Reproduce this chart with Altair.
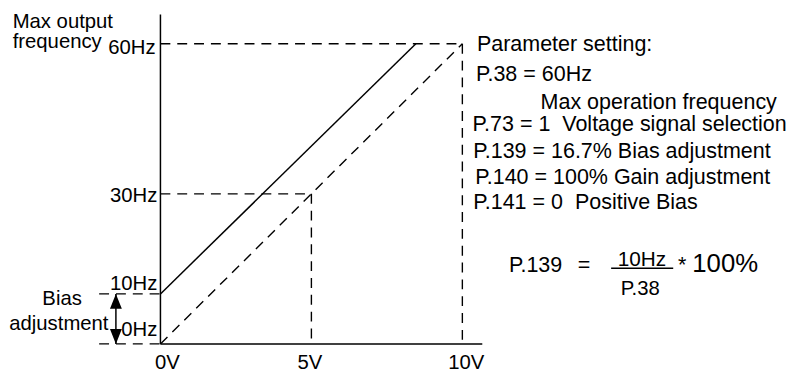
import altair as alt
import pandas as pd

FONT = "Liberation Sans"
NB = "\u00a0"

# ---------------- data (volts on x, hertz on y) ----------------
# horizontal axis ticks
volt_ticks = [0, 5, 10]
volt_labels = ["0V", "5V", "10V"]
volt_label_x = [0.23, 4.95, 10.13]
volt_label_y = [-5.05, -5.05, -5.05]

# vertical axis ticks
freq_ticks = [60, 30, 10, 0]
freq_labels = ["60Hz", "30Hz", "10Hz", "0Hz"]
freq_label_x = [-0.16, -0.10, -0.10, -0.10]
freq_label_y = [57.98, 28.40, 10.84, 1.68]

# characteristic curves
bias_curve_v = [0, 8.46]      # solid: with bias
bias_curve_hz = [10, 60]
base_curve_v = [0, 10]        # dashed: without bias
base_curve_hz = [0, 60]

# axis extents
axis_v_end = 10.66
axis_hz_end = 65.86

# guide (dashed) segments: x, y, x2, y2
guide_x = [0, 10, 0, 5, -2.03, -2.03]
guide_y = [60, 60, 30, 30, 10, 0]
guide_x2 = [10, 10, 5, 5, 0, 0]
guide_y2 = [60, 0, 30, 0, 10, 0]

# bias arrow
arrow_v = -1.475
arrow_hz = [0, 10]

# left-side titles
left_text = ["Max output", "frequency", "Bias", "adjustment"]
left_text_x = [-4.895, -4.895, -3.911, -5.007]
left_text_y = [63.23, 59.07, 7.876, 2.73]

# parameter block
param_text = [
    "Parameter setting:",
    "P.38 = 60Hz",
    "Max operation frequency",
    "P.73 = 1" + NB + NB + "Voltage signal selection",
    "P.139 = 16.7% Bias adjustment",
    "P.140 = 100% Gain adjustment",
    "P.141 = 0" + NB + NB + "Positive Bias",
]
param_x = [10.482, 10.449, 12.59, 10.338, 10.36, 10.426, 10.36]
param_y = [58.48, 52.54, 46.94, 42.51, 37.20, 32.06, 27.01]

FS = 21.7     # parameter block
FS_AX = 20.5  # axis labels and left titles

# formula
formula_left = ["P.139", "100%"]
formula_left_x = [11.541, 17.616]
formula_left_y = [14.29, 14.29]
formula_left_size = [FS, 26]
formula_center = ["=", "10Hz", "P.38", "*"]
formula_center_x = [14.033, 15.946, 15.892, 17.279]
formula_center_y = [14.29, 15.59, 9.855, 14.29]
formula_center_size = [FS, 21, 20.5, FS]
fraction_v = [14.928, 16.984]
fraction_hz = 15.14

# ---------------- scales ----------------
XS = alt.Scale(domain=[-5.049, 20.852], nice=False, zero=False)
YS = alt.Scale(domain=[-5.442, 66.789], nice=False, zero=False)


def X(f="x"):
    return alt.X(f"{f}:Q", scale=XS, axis=None)


def Y(f="y"):
    return alt.Y(f"{f}:Q", scale=YS, axis=None)


# solid segments: axes, bias curve, arrow shaft, fraction bar
solid = pd.DataFrame({
    "x": [0, 0, bias_curve_v[0], arrow_v, fraction_v[0]],
    "y": [0, 0, bias_curve_hz[0], arrow_hz[0], fraction_hz],
    "x2": [0, axis_v_end, bias_curve_v[1], arrow_v, fraction_v[1]],
    "y2": [axis_hz_end, 0, bias_curve_hz[1], arrow_hz[1], fraction_hz],
})
solid_layer = alt.Chart(solid).mark_rule(color="black", strokeWidth=1.5).encode(
    x=X(), y=Y(), x2="x2:Q", y2="y2:Q")

dashed = pd.DataFrame({
    "x": guide_x + [base_curve_v[0]],
    "y": guide_y + [base_curve_hz[0]],
    "x2": guide_x2 + [base_curve_v[1]],
    "y2": guide_y2 + [base_curve_hz[1]],
})
dashed_layer = alt.Chart(dashed).mark_rule(
    color="black", strokeWidth=1.4, strokeDash=[10, 7]).encode(
    x=X(), y=Y(), x2="x2:Q", y2="y2:Q")

# arrow heads (tip at the point)
head_up = alt.Chart(pd.DataFrame({"x": [arrow_v], "y": [arrow_hz[1]]})).mark_point(
    shape="M0,0L0.8,2L-0.8,2Z", filled=True, color="black", opacity=1, size=225,
    strokeWidth=0).encode(x=X(), y=Y())
head_down = alt.Chart(pd.DataFrame({"x": [arrow_v], "y": [arrow_hz[0]]})).mark_point(
    shape="M0,0L0.8,-2L-0.8,-2Z", filled=True, color="black", opacity=1, size=225,
    strokeWidth=0).encode(x=X(), y=Y())


def text_layer(labels, xs, ys, align, sizes):
    df = pd.DataFrame({"x": xs, "y": ys, "t": labels, "s": sizes})
    return alt.Chart(df).mark_text(
        align=align, baseline="alphabetic", font=FONT, color="black").encode(
        x=X(), y=Y(), text="t:N", size=alt.Size("s:Q", scale=None))


vlabels = text_layer(volt_labels, volt_label_x, volt_label_y, "center", [FS_AX] * 3)
flabels = text_layer(freq_labels, freq_label_x, freq_label_y, "right", [FS_AX] * 4)
ltext = text_layer(left_text, left_text_x, left_text_y, "left", [FS_AX] * 4)
ptext = text_layer(param_text, param_x, param_y, "left", [FS] * len(param_text))
ftext_l = text_layer(formula_left, formula_left_x, formula_left_y, "left", formula_left_size)
ftext_c = text_layer(formula_center, formula_center_x, formula_center_y, "center",
                     formula_center_size)

chart = alt.layer(
    dashed_layer, solid_layer, head_up, head_down,
    vlabels, flabels, ltext, ptext, ftext_l, ftext_c,
).properties(
    width=790, height=365, padding=0,
    autosize=alt.AutoSizeParams(type="none"),
    background="white",
).configure_view(strokeWidth=0)

chart.save("out.html", embed_options={"renderer": "svg", "actions": False})
